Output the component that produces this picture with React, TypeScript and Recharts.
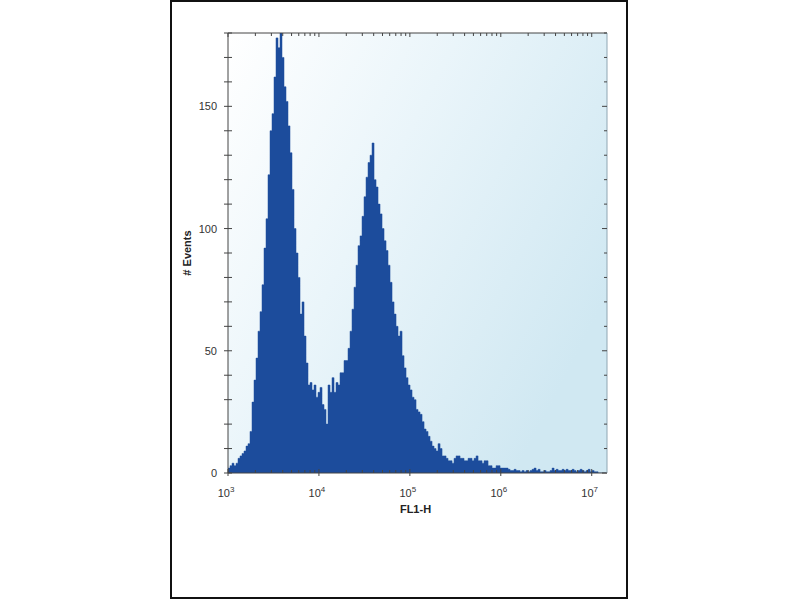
import React from "react";
import { AreaChart, Area, XAxis, YAxis, CartesianGrid } from "recharts";

// FL1-H histogram, bins evenly spaced in log10(FL1-H)
const BIN_START = 3;
const BIN_WIDTH = 0.022;
const EVENTS = [
  2, 3, 4, 3, 4, 6, 7, 8, 9, 11,
  12, 17, 29, 38, 47, 58, 66, 77, 92, 104,
  122, 140, 147, 162, 178, 174, 185, 170, 158, 152,
  142, 131, 116, 100, 90, 80, 65, 70, 56, 45,
  36, 37, 34, 36, 31, 33, 35, 28, 26, 20,
  36, 33, 39, 33, 37, 36, 41, 41, 46, 46,
  51, 58, 67, 76, 85, 93, 97, 105, 113, 121,
  127, 130, 135, 120, 117, 110, 106, 100, 95, 91,
  85, 78, 70, 65, 60, 56, 58, 48, 43, 39,
  36, 34, 31, 30, 26, 25, 24, 21, 18, 17,
  15, 13, 11, 10, 9, 12, 10, 7, 7, 6,
  5, 5, 4, 6, 7, 7, 6, 6, 5, 5,
  6, 6, 5, 6, 7, 5, 5, 4, 5, 5,
  3, 3, 2, 2, 3, 3, 2, 2, 2, 2,
  1.5, 1, 1, 1.5, 1, 1, 0.5, 1, 0.5, 1,
  0.5, 1, 1.5, 2, 1, 1.5, 0.5, 0.5, 1, 0.5,
  0.5, 1, 2, 1, 1.5, 1, 1, 1.5, 1, 1.5,
  1, 1, 1.5, 1, 0.5, 1, 1.5, 1, 0.5, 1,
  1.5, 0.5, 1, 0.5, 0.5, 0, 0, 0, 0, 0,
];

const DECADES = [3, 4, 5, 6, 7];
const X_MAX = 7.168;
const COUNT_TICKS = [0, 10, 20, 30, 40, 50, 60, 70, 80, 90, 100, 110, 120, 130, 140, 150, 160, 170, 180];
const COUNT_LABELS = [0, 50, 100, 150];

const data = EVENTS.map((n, i) => ({ x: BIN_START + i * BIN_WIDTH, n }));

const X_TICKS: number[] = [];
DECADES.forEach((d) => {
  [1, 2, 3, 4, 5, 6, 7, 8, 9].forEach((k) => {
    const v = d + Math.log10(k);
    if (v <= X_MAX) X_TICKS.push(v);
  });
});

const AXIS = "#444";
const TEXT = "#333";
const FONT = "'Liberation Sans', Arial, sans-serif";
const isMajor = (v: number) => Math.abs(v - Math.round(v)) < 1e-6;

function BottomTick({ x, y, payload }: any) {
  const v = payload.value;
  const major = isMajor(v);
  return (
    <g>
      <line x1={x} x2={x} y1={major ? y - 4 : y - 3} y2={major ? y + 3 : y} stroke={AXIS} />
      {major && (
        <text x={x - 2} y={y + 24} textAnchor="middle" fontSize={11} fill={TEXT} fontFamily={FONT}>
          10<tspan dy={-5} fontSize={8}>{Math.round(v)}</tspan>
        </text>
      )}
    </g>
  );
}

function TopTick({ x, y, payload }: any) {
  const major = isMajor(payload.value);
  return <line x1={x} x2={x} y1={y} y2={y + (major ? 4 : 3)} stroke={AXIS} />;
}

function LeftTick({ x, y, payload }: any) {
  const v = payload.value;
  return (
    <g>
      <line x1={x - 4} x2={x + 4} y1={y} y2={y} stroke={AXIS} />
      {COUNT_LABELS.includes(v) && (
        <text x={x - 11} y={y + 4} textAnchor="end" fontSize={11} fill={TEXT} fontFamily={FONT}>
          {v}
        </text>
      )}
    </g>
  );
}

function RightTick({ x, y, payload }: any) {
  const major = COUNT_LABELS.includes(payload.value);
  return <line x1={x - (major ? 5 : 3)} x2={x} y1={y} y2={y} stroke={AXIS} />;
}

function XTitle({ viewBox }: any) {
  return (
    <text x={viewBox.x + viewBox.width / 2 - 2} y={viewBox.y + 40} textAnchor="middle" fontSize={11} fontWeight="bold" fill="#222" fontFamily={FONT}>
      FL1-H
    </text>
  );
}

function YTitle({ viewBox }: any) {
  const cx = viewBox.x + 19;
  const cy = viewBox.y + viewBox.height / 2;
  return (
    <text x={cx} y={cy} transform={`rotate(-90 ${cx} ${cy})`} textAnchor="middle" dominantBaseline="central" fontSize={11} fontWeight="bold" fill="#222" fontFamily={FONT}>
      # Events
    </text>
  );
}

export default function App() {
  return (
    <div style={{ position: "absolute", left: 0, top: 0, width: 800, height: 600, background: "#fff" }}>
      <div
        style={{
          position: "absolute", left: 170, top: 0, width: 458, height: 599,
          border: "2px solid #111", boxSizing: "border-box",
        }}
      />
      <div style={{ position: "absolute", left: 0, top: 0 }}>
        <AreaChart width={800} height={600} data={data} margin={{ top: 23, right: 183, bottom: 87, left: 168 }}>
          <defs>
            <linearGradient id="bg" x1="0" y1="0" x2="1" y2="0.6">
              <stop offset="0%" stopColor="#ffffff" />
              <stop offset="45%" stopColor="#eaf5fa" />
              <stop offset="100%" stopColor="#d0e8f2" />
            </linearGradient>
          </defs>
          <CartesianGrid xAxisId="b" yAxisId="l" horizontal={false} vertical={false} fill="url(#bg)" fillOpacity={1} />
          <XAxis
            xAxisId="b" type="number" dataKey="x" domain={[3, X_MAX]} allowDataOverflow
            ticks={X_TICKS} interval={0} tick={<BottomTick />} tickLine={false} tickSize={0} tickMargin={0}
            axisLine={{ stroke: AXIS }} height={40} label={<XTitle />}
          />
          <XAxis
            xAxisId="t" orientation="top" type="number" dataKey="x" domain={[3, X_MAX]} allowDataOverflow
            ticks={X_TICKS} interval={0} tick={<TopTick />} tickLine={false} tickSize={0} tickMargin={0}
            axisLine={{ stroke: AXIS }} height={10}
          />
          <YAxis
            yAxisId="l" type="number" domain={[0, 180]} allowDataOverflow ticks={COUNT_TICKS} interval={0}
            tick={<LeftTick />} tickLine={false} tickSize={0} tickMargin={0} axisLine={{ stroke: AXIS }}
            width={60} label={<YTitle />}
          />
          <YAxis
            yAxisId="r" orientation="right" type="number" domain={[0, 180]} allowDataOverflow ticks={COUNT_TICKS}
            interval={0} tick={<RightTick />} tickLine={false} tickSize={0} tickMargin={0}
            axisLine={{ stroke: "#8fa6b3" }} width={10}
          />
          <Area
            xAxisId="b" yAxisId="l" type="stepAfter" dataKey="n" stroke="#1c4c9c" strokeWidth={0.5}
            fill="#1c4c9c" fillOpacity={1} isAnimationActive={false} dot={false} activeDot={false}
          />
        </AreaChart>
      </div>
    </div>
  );
}
